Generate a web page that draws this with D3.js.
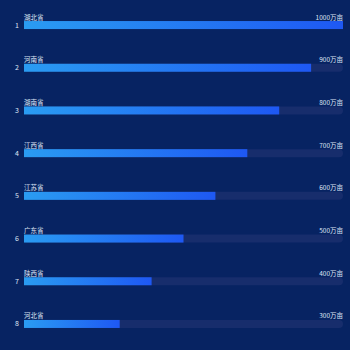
<!DOCTYPE html>
<html><head><meta charset="utf-8">
<script src="https://cdn.jsdelivr.net/npm/d3@7"></script>
<style>html,body{margin:0;padding:0;background:#072362;}svg{display:block;}</style>
</head><body>
<svg id="c" width="350" height="350"></svg>
<script>
const provinces = ["湖北省","河南省","湖南省","江西省","江苏省","广东省","陕西省","河北省"];
const values = [1000,900,800,700,600,500,400,300];
const ranks = ["1","2","3","4","5","6","7","8"];
const maxValue = 1000;
const unit = "万亩";

(function(){
const svg = d3.select("#c");
const W = 350, H = 350;
svg.append("rect").attr("width",W).attr("height",H).attr("fill","#072362");
const mLeft = 24, mRight = 343, mTop = 3.7, mBottom = 345.3;
const x = d3.scaleLinear().domain([0,maxValue]).range([mLeft,mRight]);
const y = d3.scaleBand().domain(ranks).range([mTop,mBottom]);
const barH = 8;

const defs = svg.append("defs");
const grad = defs.append("linearGradient").attr("id","g").attr("x1","0%").attr("x2","100%");
grad.append("stop").attr("offset","0%").attr("stop-color","#2a9cf2");
grad.append("stop").attr("offset","100%").attr("stop-color","#1e58f3");

const rows = svg.selectAll("g.row").data(provinces.map((p,i)=>({p,v:values[i],r:ranks[i]})))
  .enter().append("g").attr("class","row");
const cy = d => y(d.r)+y.bandwidth()/2;

rows.append("rect").attr("x",x(0)).attr("y",d=>cy(d)-barH/2).attr("width",x(maxValue)-x(0)).attr("height",barH)
  .attr("rx",4).attr("fill","#172d6c");
rows.append("rect").attr("x",x(0)).attr("y",d=>cy(d)-barH/2).attr("width",d=>x(d.v)-x(0)).attr("height",barH)
  .attr("fill","url(#g)");
rows.append("text").attr("x",17).attr("y",d=>cy(d)+2.5).attr("text-anchor","middle")
  .attr("font-family","Noto Sans CJK SC, sans-serif").attr("font-size",7).attr("fill","#dfe6f5").text(d=>d.r);
rows.append("text").attr("x",x(0)).attr("y",d=>cy(d)-barH/2-1.5)
  .attr("font-family","Noto Sans CJK SC, sans-serif").attr("font-size",6.5).attr("fill","#dfe6f5").text(d=>d.p);
rows.append("text").attr("x",x(maxValue)).attr("y",d=>cy(d)-barH/2-1.5).attr("text-anchor","end")
  .attr("font-family","Noto Sans CJK SC, sans-serif").attr("font-size",6.5).attr("fill","#dfe6f5").text(d=>d.v+unit);
})();
</script>
</body></html>
